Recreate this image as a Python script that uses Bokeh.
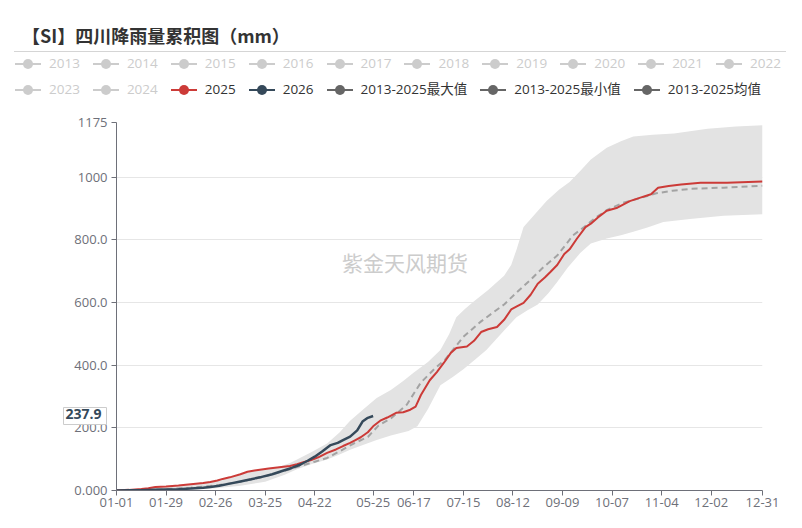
import datetime
from bokeh.plotting import figure
from bokeh.layouts import column
from bokeh.models import Range1d, FixedTicker, Label, Div
from bokeh.embed import file_html
from bokeh.resources import INLINE

# ---- categories: day-of-year labels (leap-year calendar, 366 days) ----
DATES = [(datetime.date(2024, 1, 1) + datetime.timedelta(days=i)).strftime("%m-%d") for i in range(366)]
X_TICKS = [0, 28, 56, 84, 112, 140, 168, 196, 224, 252, 280, 308, 336, 365]
Y_TICKS = [0, 200, 400, 600, 800, 1000, 1175]
Y_TICK_LABELS = ["0.000", "200.0", "400.0", "600.0", "800.0", "1000", "1175"]

TITLE = "【SI】四川降雨量累积图（mm）"
WATERMARK = "紫金天风期货"
LEGEND_ROW1 = ["2013", "2014", "2015", "2016", "2017", "2018", "2019", "2020", "2021", "2022"]
LEGEND_ROW2 = ["2023", "2024", "2025", "2026", "2013-2025最大值", "2013-2025最小值", "2013-2025均值"]
LEGEND_ROW2_ACTIVE = [False, False, True, True, True, True, True]

# ---- series (day index, cumulative mm) ----
Y2025_DAY = [0, 7, 14, 18, 22, 28, 35, 42, 49, 53, 57, 60, 64, 70, 74, 78, 86, 92, 98, 102, 106, 110, 114,
             119, 124, 128, 132, 135, 138, 142, 145, 149, 153, 158, 162, 166, 169, 172, 177, 181, 185, 189,
             192, 198, 202, 206, 210, 215, 219, 223, 227, 230, 234, 238, 242, 245, 249, 253, 256, 260, 265,
             268, 272, 277, 283, 290, 296, 302, 306, 312, 319, 330, 345, 365]
Y2025_VAL = [0, 2, 5, 7, 11, 13, 16, 20, 24, 27, 32, 37, 42, 52, 60, 64, 70, 74, 78, 84, 91, 97, 106,
             120, 131, 142, 152, 161, 170, 186, 205, 223, 233, 248, 250, 258, 268, 305, 352, 378, 408, 440,
             455, 460, 478, 506, 515, 522, 545, 578, 590, 599, 625, 660, 680, 697, 720, 755, 770, 803, 841,
             852, 872, 893, 903, 924, 935, 946, 967, 972, 977, 983, 983, 987]

Y2026_DAY = [0, 7, 14, 21, 28, 35, 42, 49, 53, 58, 64, 70, 76, 81, 88, 94, 99, 104, 108, 112, 116, 121,
             125, 128, 132, 136, 139, 142, 145]
Y2026_VAL = [0, 1, 1, 2, 3, 4, 6, 9, 11, 15, 22, 29, 36, 42, 52, 63, 72, 83, 95, 108, 124, 145,
             152, 161, 172, 192, 220, 232, 237.9]

MEAN_DAY = [0, 14, 28, 42, 56, 70, 84, 98, 112, 119, 126, 134, 142, 148, 155, 164, 172, 180, 186, 196,
            206, 212, 219, 226, 234, 241, 249, 258, 264, 270, 277, 286, 296, 305, 314, 324, 343, 365]
MEAN_VAL = [0, 1, 4, 9, 16, 28, 45, 68, 92, 104, 125, 150, 171, 207, 230, 274, 345, 390, 420, 491,
            540, 565, 594, 632, 673, 712, 750, 815, 840, 868, 895, 918, 934, 949, 957, 963, 967, 973]

MAX_DAY = [0, 14, 28, 42, 56, 70, 84, 92, 98, 102, 110, 119, 126, 132, 140, 147, 155, 162, 168, 176, 183,
           188, 192, 197, 202, 210, 219, 223, 226, 230, 236, 243, 250, 256, 262, 268, 277, 285, 292, 303,
           315, 334, 350, 365]
MAX_VAL = [0, 6, 14, 21, 33, 53, 70, 76, 88, 99, 122, 150, 185, 223, 262, 295, 321, 350, 377, 410, 449,
           500, 553, 580, 604, 640, 686, 720, 769, 841, 880, 924, 960, 985, 1020, 1057, 1094, 1115, 1130, 1136,
           1140, 1155, 1162, 1166]

MIN_DAY = [0, 14, 28, 42, 56, 70, 84, 95, 102, 110, 119, 126, 132, 140, 147, 155, 165, 170, 176, 183, 190,
           196, 203, 209, 214, 219, 226, 232, 238, 244, 249, 255, 262, 268, 277, 285, 292, 300, 309, 324,
           343, 365]
MIN_VAL = [0, 0, 1, 3, 7, 15, 28, 50, 68, 84, 99, 115, 130, 147, 161, 176, 190, 205, 260, 336, 362,
           387, 420, 449, 480, 511, 553, 575, 594, 630, 666, 712, 758, 789, 805, 815, 826, 840, 857, 867,
           877, 882]

# ---- layout ----
W = 786
HEAD_H = 110
MAIN_H = 512 - HEAD_H

C_2025 = "#cc3b38"
C_2026 = "#35495a"
C_STAT = "#666666"
C_OFF = "#cccccc"
AXIS_C = "#6e7079"
LATIN = "Open Sans, Noto Sans CJK SC"
ROW2_COLORS = [C_OFF, C_OFF, C_2025, C_2026, C_STAT, C_STAT, C_STAT]

# ================= header: title, separator and legend rows (HTML) =================
FONT_CSS = "font-family:'Open Sans','Noto Sans CJK SC',sans-serif;font-size:13.5px;"


def legend_item(label, color, text_color):
    glyph = ('<span style="position:relative;display:inline-block;flex:none;width:26px;height:12px;'
             'margin-right:8px">'
             f'<span style="position:absolute;left:0;top:5px;width:26px;height:2px;background:{color}"></span>'
             f'<span style="position:absolute;left:8px;top:1px;width:10px;height:10px;border-radius:5px;'
             f'background:{color}"></span></span>')
    return (f'<span style="display:inline-flex;align-items:center;margin-right:13px">{glyph}'
            f'<span style="color:{text_color}">{label}</span></span>')


def legend_row(labels, colors, actives, top):
    items = "".join(legend_item(l, c, "#333333" if a else C_OFF) for l, c, a in zip(labels, colors, actives))
    return (f'<div style="position:absolute;left:15px;top:{top}px;height:20px;display:flex;'
            f'align-items:center;white-space:nowrap;{FONT_CSS}">{items}</div>')


head_html = (
    f'<div style="position:relative;width:{W}px;height:{HEAD_H}px;overflow:hidden;background:white">'
    '<div style="position:absolute;left:22px;top:23px;line-height:24px;font-size:18px;font-weight:bold;'
    "font-family:'Noto Sans CJK SC',sans-serif;color:#333333;white-space:nowrap\">" + TITLE + '</div>'
    f'<div style="position:absolute;left:14px;top:51px;width:{W - 14}px;height:0;'
    'border-top:1.5px solid #d5d5d5"></div>'
    + legend_row(LEGEND_ROW1, [C_OFF] * len(LEGEND_ROW1), [False] * len(LEGEND_ROW1), 54)
    + legend_row(LEGEND_ROW2, ROW2_COLORS, LEGEND_ROW2_ACTIVE, 80)
    + '</div>'
)
head = Div(text=head_html, width=W, height=HEAD_H, margin=0)

# ================= main chart =================
p = figure(width=W, height=MAIN_H, x_range=Range1d(0, 365), y_range=Range1d(0, 1175),
           output_backend="svg", toolbar_location=None,
           min_border_left=116, min_border_right=W - 116 - 646, min_border_top=12, min_border_bottom=22)
p.outline_line_color = None
p.xgrid.grid_line_color = None
p.ygrid.grid_line_color = "#e6e6e6"
p.ygrid.ticker = FixedTicker(ticks=Y_TICKS)

p.patch(MAX_DAY + MIN_DAY[::-1], MAX_VAL + MIN_VAL[::-1], fill_color="#e3e3e3", line_color=None)
p.line(MEAN_DAY, MEAN_VAL, line_color="#a3a3a3", line_width=2, line_dash="6 4")
p.line(Y2025_DAY, Y2025_VAL, line_color=C_2025, line_width=2)
p.line(Y2026_DAY, Y2026_VAL, line_color=C_2026, line_width=2.5)

last_d = Y2026_DAY[-1]
last_v = Y2026_VAL[-1]

for ax in (p.xaxis[0], p.yaxis[0]):
    ax.axis_line_color = AXIS_C
    ax.major_tick_line_color = AXIS_C
    ax.minor_tick_line_color = None
    ax.major_tick_out = 5
    ax.major_tick_in = 0
    ax.major_label_text_color = AXIS_C
    ax.major_label_text_font_size = "13px"
    ax.major_label_text_font = LATIN
p.yaxis.ticker = FixedTicker(ticks=Y_TICKS)
p.yaxis.major_label_overrides = dict(zip(Y_TICKS, Y_TICK_LABELS))
p.yaxis.major_label_standoff = 4
# the axis pointer date (last 2026 day) replaces the regular tick next to it
x_ticks = sorted([t for t in X_TICKS if abs(t - last_d) > 10] + [last_d])
p.xaxis.ticker = FixedTicker(ticks=x_ticks)
p.xaxis.major_label_overrides = {d: DATES[d] for d in x_ticks}
p.xaxis.major_label_standoff = 2

# watermark (inside the frame)
p.add_layout(Label(x=163, y=730, text=WATERMARK, text_font="Noto Sans CJK SC", text_font_size="21px",
                   text_color="#cccccc", text_align="center", text_baseline="middle"))

# axis-pointer value label on the y axis
p.add_layout(Label(x=0, y=last_v, text=f"{last_v:.1f}", text_align="right", text_baseline="middle",
                   x_offset=-10, text_font="Open Sans", text_font_size="14px", text_font_style="bold",
                   text_color=C_2026, background_fill_color="white", border_line_color="#cccccc",
                   padding=(2, 5, 2, 5)), "left")

layout = column(head, p, spacing=0)
open("out.html", "w").write(file_html(layout, INLINE))
